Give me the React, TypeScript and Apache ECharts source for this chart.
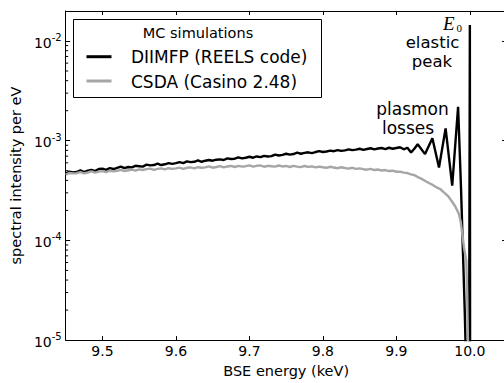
import React, { useEffect, useRef } from "react";
import * as echarts from "echarts";

// Axis ranges
const X_MIN = 9.45;
const X_MAX = 10.05;
const Y_MIN = 1e-5;
const Y_MAX = 2e-2;

// Intensities are given in units of 1e-4 per eV
const UNIT = 1e-4;

// DIIMFP (REELS code) — energy in keV
const diimfpEnergy = [
  9.45, 9.455, 9.46, 9.465, 9.47, 9.475, 9.48, 9.485, 9.49, 9.495,
  9.5, 9.505, 9.51, 9.515, 9.52, 9.525, 9.53, 9.535, 9.54, 9.545,
  9.55, 9.555, 9.56, 9.565, 9.57, 9.575, 9.58, 9.585, 9.59, 9.595,
  9.6, 9.605, 9.61, 9.615, 9.62, 9.625, 9.63, 9.635, 9.64, 9.645,
  9.65, 9.655, 9.66, 9.665, 9.67, 9.675, 9.68, 9.685, 9.69, 9.695,
  9.7, 9.705, 9.71, 9.715, 9.72, 9.725, 9.73, 9.735, 9.74, 9.745,
  9.75, 9.755, 9.76, 9.765, 9.77, 9.775, 9.78, 9.785, 9.79, 9.795,
  9.8, 9.805, 9.81, 9.815, 9.82, 9.825, 9.83, 9.835, 9.84, 9.845,
  9.85, 9.855, 9.86, 9.865, 9.87, 9.875, 9.88, 9.885, 9.89, 9.895,
  9.9, 9.905, 9.91, 9.915, 9.92, 9.925, 9.929, 9.939, 9.949, 9.958,
  9.967, 9.976, 9.984, 9.988, 9.9905, 9.993, 9.995, 9.9985, 10.0, 10.0005,
];
const diimfpIntensity = [
  4.65, 4.9, 4.8, 4.85, 5.05, 4.85, 5.0, 5.1, 4.95, 5.2,
  5.25, 5.1, 5.3, 5.2, 5.35, 5.5, 5.3, 5.45, 5.4, 5.6,
  5.55, 5.5, 5.75, 5.65, 5.7, 5.9, 5.7, 5.8, 5.95, 5.85,
  5.95, 6.1, 5.95, 6.2, 6.1, 6.15, 6.35, 6.15, 6.3, 6.4,
  6.3, 6.45, 6.5, 6.4, 6.65, 6.55, 6.6, 6.8, 6.65, 6.75,
  6.9, 6.75, 6.95, 6.85, 7.05, 6.95, 7.0, 7.25, 7.1, 7.2,
  7.4, 7.25, 7.35, 7.6, 7.4, 7.55, 7.65, 7.5, 7.7, 7.85,
  7.7, 7.8, 7.95, 7.85, 8.05, 7.9, 8.0, 8.2, 8.05, 8.15,
  8.3, 8.1, 8.25, 8.4, 8.2, 8.35, 8.45, 8.25, 8.5, 8.3,
  8.45, 8.6, 8.2, 8.5, 7.6, 8.4, 9.2, 7.34, 10.6, 5.38,
  13.3, 3.55, 21.9, 3.3, 0.81, 0.2, 0.05, 0.001, 145, 0.001,
];

// CSDA (Casino 2.48)
const csdaEnergy = [
  9.45, 9.455, 9.46, 9.465, 9.47, 9.475, 9.48, 9.485, 9.49, 9.495,
  9.5, 9.505, 9.51, 9.515, 9.52, 9.525, 9.53, 9.535, 9.54, 9.545,
  9.55, 9.555, 9.56, 9.565, 9.57, 9.575, 9.58, 9.585, 9.59, 9.595,
  9.6, 9.605, 9.61, 9.615, 9.62, 9.625, 9.63, 9.635, 9.64, 9.645,
  9.65, 9.655, 9.66, 9.665, 9.67, 9.675, 9.68, 9.685, 9.69, 9.695,
  9.7, 9.705, 9.71, 9.715, 9.72, 9.725, 9.73, 9.735, 9.74, 9.745,
  9.75, 9.755, 9.76, 9.765, 9.77, 9.775, 9.78, 9.785, 9.79, 9.795,
  9.8, 9.805, 9.81, 9.815, 9.82, 9.825, 9.83, 9.835, 9.84, 9.845,
  9.85, 9.855, 9.86, 9.865, 9.87, 9.875, 9.88, 9.885, 9.89, 9.895,
  9.9, 9.905, 9.91, 9.915, 9.92, 9.925, 9.93, 9.935, 9.94, 9.945,
  9.95, 9.955, 9.96, 9.965, 9.97, 9.975, 9.98, 9.985, 9.9875, 9.99,
  9.992, 9.9952, 9.9965, 9.998, 9.999,
];
const csdaIntensity = [
  4.55, 4.75, 4.7, 4.72, 4.85, 4.7, 4.8, 4.92, 4.78, 4.9,
  4.95, 4.85, 5.0, 4.92, 4.98, 5.1, 4.95, 5.05, 5.12, 5.0,
  5.15, 5.08, 5.18, 5.25, 5.1, 5.22, 5.28, 5.15, 5.3, 5.22,
  5.28, 5.38, 5.22, 5.35, 5.4, 5.28, 5.42, 5.35, 5.4, 5.52,
  5.36, 5.45, 5.55, 5.4, 5.52, 5.58, 5.45, 5.6, 5.5, 5.55,
  5.65, 5.5, 5.6, 5.66, 5.48, 5.6, 5.55, 5.5, 5.64, 5.52,
  5.58, 5.45, 5.6, 5.5, 5.44, 5.58, 5.46, 5.52, 5.4, 5.5,
  5.42, 5.35, 5.48, 5.38, 5.3, 5.42, 5.32, 5.25, 5.35, 5.22,
  5.28, 5.18, 5.12, 5.22, 5.08, 5.14, 5.02, 5.08, 4.96, 5.0,
  4.88, 4.9, 4.78, 4.74, 4.6, 4.5, 4.28, 4.12, 3.92, 3.74,
  3.58, 3.4, 3.26, 3.02, 2.8, 2.5, 2.2, 1.85, 1.55, 1.12,
  0.85, 0.62, 0.25, 0.05, 0.001,
];

// Minor log ticks (2..9 x 10^n)
const minorTickValues = [
  2e-5, 3e-5, 4e-5, 5e-5, 6e-5, 7e-5, 8e-5, 9e-5,
  2e-4, 3e-4, 4e-4, 5e-4, 6e-4, 7e-4, 8e-4, 9e-4,
  2e-3, 3e-3, 4e-3, 5e-3, 6e-3, 7e-3, 8e-3, 9e-3,
];

const seriesNames = ["DIIMFP (REELS code)", "CSDA (Casino 2.48)"];
const legendTitle = "MC simulations";
const xAxisTitle = "BSE energy (keV)";
const yAxisTitle = "spectral intensity per eV";

const FONT = "DejaVu Sans";
const BLACK = "#000000";
const GRAY = "#a6a6a6";

export default function App() {
  const ref = useRef<HTMLDivElement>(null);

  useEffect(() => {
    if (!ref.current) return;
    const chart = echarts.init(ref.current, undefined, { renderer: "svg" });

    const black = diimfpEnergy.map((e, i) => [e, diimfpIntensity[i] * UNIT]);
    const gray = csdaEnergy.map((e, i) => [e, csdaIntensity[i] * UNIT]);

    const yLabel = (v: number) => {
      const p = Math.round(Math.log10(v));
      return `{b|10}{s|${p}}`;
    };

    const commonY = {
      type: "log" as const,
      logBase: 10,
      min: Y_MIN,
      max: Y_MAX,
      splitLine: { show: false },
      minorTick: { show: false },
    };

    const textStyle = (text: string, size: number, align: string, lineHeight: number, family = FONT, extra = "") => ({
      text,
      font: `${extra}${size}px "${family}"`,
      fill: BLACK,
      align,
      verticalAlign: "middle",
      lineHeight,
    });

    const option: any = {
      animation: false,
      backgroundColor: "#ffffff",
      grid: { left: 65, top: 11, width: 441.6, height: 336 },
      xAxis: [
        {
          type: "value",
          min: X_MIN,
          max: X_MAX,
          name: xAxisTitle,
          nameLocation: "middle",
          nameGap: 17,
          nameTextStyle: { fontFamily: FONT, fontSize: 14.5, color: BLACK },
          axisLine: { show: true, lineStyle: { color: BLACK, width: 1 } },
          axisTick: { show: true, inside: true, length: 4, lineStyle: { color: BLACK } },
          axisLabel: {
            show: true,
            margin: 4,
            showMinLabel: false,
            showMaxLabel: false,
            fontFamily: FONT,
            fontSize: 14,
            color: BLACK,
            formatter: (v: number) => v.toFixed(1),
          },
          splitLine: { show: false },
        },
        {
          type: "value",
          position: "top",
          min: X_MIN,
          max: X_MAX,
          axisLine: { show: true, lineStyle: { color: BLACK, width: 1 } },
          axisTick: { show: true, inside: true, length: 4, lineStyle: { color: BLACK } },
          axisLabel: { show: false },
          splitLine: { show: false },
        },
      ],
      yAxis: [
        {
          ...commonY,
          name: yAxisTitle,
          nameLocation: "middle",
          nameGap: 39,
          nameTextStyle: { fontFamily: FONT, fontSize: 14.5, color: BLACK },
          axisLine: { show: true, lineStyle: { color: BLACK, width: 1 } },
          axisTick: { show: true, inside: true, length: 4.5, lineStyle: { color: BLACK } },
          axisLabel: {
            show: true,
            margin: 4,
            showMaxLabel: false,
            formatter: yLabel,
            rich: {
              b: { fontFamily: FONT, fontSize: 14, color: BLACK, lineHeight: 17, verticalAlign: "bottom" },
              s: { fontFamily: FONT, fontSize: 10, color: BLACK, lineHeight: 10, verticalAlign: "top" },
            },
          },
        },
        {
          ...commonY,
          position: "right",
          axisLine: { show: true, lineStyle: { color: BLACK, width: 1 } },
          axisTick: { show: true, inside: true, length: 4.5, lineStyle: { color: BLACK } },
          axisLabel: { show: false },
        },
      ],
      series: [
        {
          name: seriesNames[0],
          type: "line",
          data: black,
          showSymbol: false,
          symbol: "none",
          lineStyle: { color: BLACK, width: 2.4 },
          z: 3,
        },
        {
          name: seriesNames[1],
          type: "line",
          data: gray,
          showSymbol: false,
          symbol: "none",
          lineStyle: { color: GRAY, width: 2.4 },
          z: 4,
        },
        {
          type: "custom",
          coordinateSystem: "cartesian2d",
          silent: true,
          clip: false,
          z: 6,
          data: minorTickValues.map((v) => [X_MIN, v]),
          renderItem: (params: any, api: any) => {
            const cs = params.coordSys;
            const p = api.coord([api.value(0), api.value(1)]);
            const style = { stroke: BLACK, lineWidth: 1 };
            return {
              type: "group",
              children: [
                { type: "line", shape: { x1: cs.x, y1: p[1], x2: cs.x + 2.5, y2: p[1] }, style },
                { type: "line", shape: { x1: cs.x + cs.width - 2.5, y1: p[1], x2: cs.x + cs.width, y2: p[1] }, style },
              ],
            };
          },
        },
      ],
      graphic: [
        // legend
        {
          type: "rect",
          shape: { x: 73.5, y: 19.5, width: 248, height: 78 },
          style: { fill: "#ffffff", stroke: BLACK, lineWidth: 1 },
          z: 10,
        },
        { type: "text", x: 198, y: 33.3, style: textStyle(legendTitle, 14.5, "center", 16), z: 11 },
        {
          type: "line",
          shape: { x1: 86.5, y1: 56.7, x2: 111.5, y2: 56.7 },
          style: { stroke: BLACK, lineWidth: 3 },
          z: 11,
        },
        { type: "text", x: 131, y: 57.4, style: textStyle(seriesNames[0], 17, "left", 19), z: 11 },
        {
          type: "line",
          shape: { x1: 86.5, y1: 81, x2: 111.5, y2: 81 },
          style: { stroke: GRAY, lineWidth: 3 },
          z: 11,
        },
        { type: "text", x: 131, y: 82.4, style: textStyle(seriesNames[1], 17, "left", 19), z: 11 },
        // annotations
        { type: "text", x: 443, y: 23, style: textStyle("E", 19, "left", 13, "Liberation Serif", "italic "), z: 11 },
        { type: "text", x: 456.5, y: 28, style: textStyle("0", 11, "left", 8, "Liberation Serif"), z: 11 },
        { type: "text", x: 432.5, y: 42, style: textStyle("elastic", 16.5, "center", 15), z: 11 },
        { type: "text", x: 432, y: 61.5, style: textStyle("peak", 16.5, "center", 15), z: 11 },
        { type: "text", x: 412.5, y: 109, style: textStyle("plasmon", 17, "center", 15), z: 11 },
        { type: "text", x: 408, y: 128, style: textStyle("losses", 17, "center", 15), z: 11 },
      ],
    };

    chart.setOption(option);
    return () => chart.dispose();
  }, []);

  return (
    <div
      style={{
        position: "fixed",
        left: 0,
        top: 0,
        width: 504,
        height: 383,
        overflow: "hidden",
        background: "#ffffff",
      }}
    >
      <div ref={ref} style={{ width: 512, height: 383 }} />
    </div>
  );
}
